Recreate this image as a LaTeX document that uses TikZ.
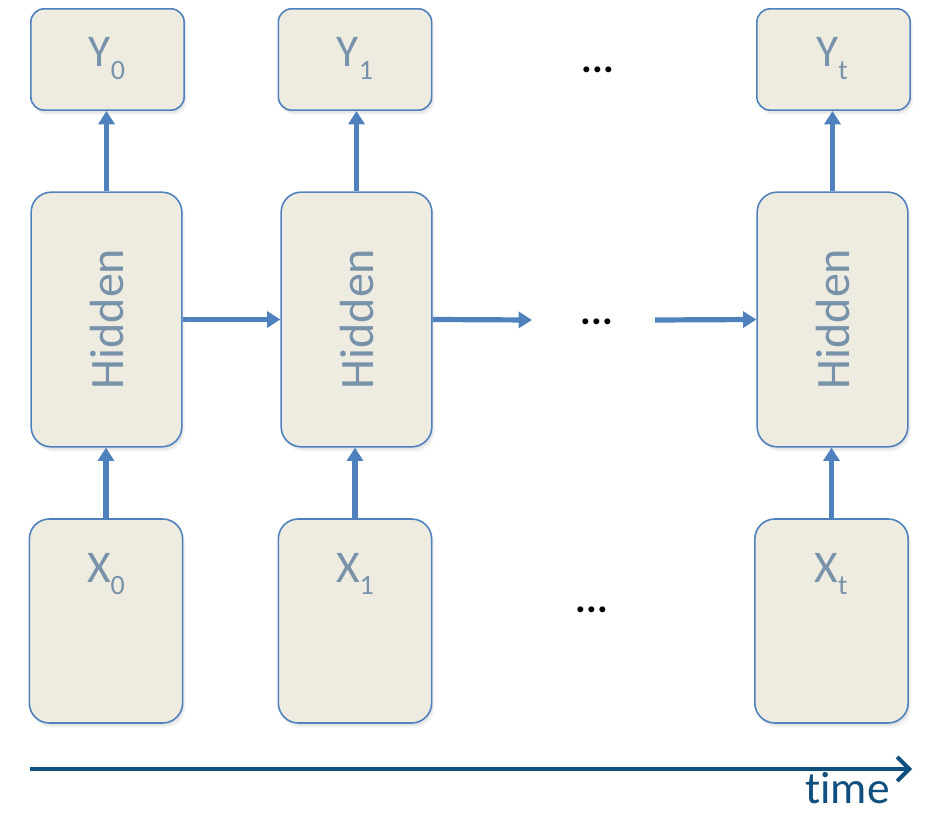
\documentclass[tikz,border=0pt]{standalone}
\usepackage{fontspec}
\setmainfont[Ligatures=NoCommon]{Carlito}
\usetikzlibrary{arrows.meta,shadows}
\definecolor{boxfill}{HTML}{EEECE1}
\definecolor{boxline}{HTML}{4F81BD}
\definecolor{labelcol}{HTML}{7892AA}
\definecolor{timecol}{HTML}{10507F}
\tikzset{
  cell/.style={draw=boxline, line width=1.2pt, fill=boxfill, inner sep=0pt,
    drop shadow={shadow xshift=1.2pt, shadow yshift=-2.2pt, opacity=0.12},
    drop shadow={shadow xshift=2.2pt, shadow yshift=-3.6pt, opacity=0.08}},
  outbox/.style={cell, rounded corners=10pt, minimum width=115pt, minimum height=76pt},
  hidbox/.style={cell, rounded corners=15pt, minimum width=113pt, minimum height=191pt},
  inbox/.style={cell, rounded corners=15pt, minimum width=115pt, minimum height=153pt},
  lbl/.style={text=labelcol, font=\fontsize{34}{34}\selectfont, inner sep=0pt},
  hlbl/.style={text=labelcol, font=\fontsize{36}{36}\selectfont, inner sep=0pt},
  flow/.style={draw=boxline, line width=3.9pt, -{Triangle[length=10pt,width=12pt]}},
  dots/.style={font=\fontsize{30}{30}\selectfont\bfseries, inner sep=0pt}
}
\newcommand{\lowsub}[1]{\raisebox{-9.5pt}{\fontsize{21}{21}\selectfont #1}}
\begin{document}
\begin{tikzpicture}[x=0.75pt,y=-0.75pt]
\useasboundingbox (0,0) rectangle (925,816);

% output boxes
\node[outbox] (Y0) at (107.5,59.5) {};
\node[outbox] (Y1) at (355,59.5) {};
\node[outbox] (Yt) at (833.5,59.5) {};
% hidden state boxes
\node[hidbox] (H0) at (106.5,319.5) {};
\node[hidbox] (H1) at (356.5,319.5) {};
\node[hidbox] (Ht) at (832.5,319.5) {};
% input boxes
\node[inbox] (X0) at (106,621) {};
\node[inbox] (X1) at (355,621) {};
\node[inbox] (Xt) at (831.5,621) {};

% labels
\node[lbl, anchor=base] (lY0) at (107,67) {Y\lowsub{0}};
\node[lbl, anchor=base] (lY1) at (355,67) {Y\lowsub{1}};
\node[lbl, anchor=base] (lYt) at (832,67) {Y\lowsub{t}};
\node[lbl, anchor=base] (lX0) at (106,582) {X\lowsub{0}};
\node[lbl, anchor=base] (lX1) at (355,582) {X\lowsub{1}};
\node[lbl, anchor=base] (lXt) at (831,582) {X\lowsub{t}};
\node[hlbl, rotate=90] (lH0) at (107,319) {Hidden};
\node[hlbl, rotate=90] (lH1) at (357,319) {Hidden};
\node[hlbl, rotate=90] (lHt) at (833,319) {Hidden};

% ellipses
\node[dots] (d1) at (598,70) {...};
\node[dots] (d2) at (597,322) {...};
\node[dots] (d3) at (592,610) {...};

% connectors
\draw[flow] (H0.north) -- (H0.north |- Y0.south);
\draw[flow] (H1.north) -- (H1.north |- Y1.south);
\draw[flow] (Ht.north) -- (Ht.north |- Yt.south);
\draw[flow] (X0.north) -- (X0.north |- H0.south);
\draw[flow] (X1.north) -- (X1.north |- H1.south);
\draw[flow] (Xt.north) -- (Xt.north |- Ht.south);
\coordinate (gapin) at (532,320);
\coordinate (gapout) at (655,320);
\draw[flow] (H0.east) -- (H1.west);
\draw[flow] (H1.east) -- (gapin);
\draw[flow] (gapout) -- (Ht.west);

% time axis
\coordinate (t0) at (30,769);
\coordinate (t1) at (912,769);
\draw[timecol, line width=3.6pt, -{Straight Barb[length=9pt,width=18pt,line width=3pt]}] (t0) -- (t1);
\node[text=timecol, font=\fontsize{34}{34}\selectfont, anchor=base east, inner sep=0pt] (tl) at (890,803) {time};
\end{tikzpicture}
\end{document}
